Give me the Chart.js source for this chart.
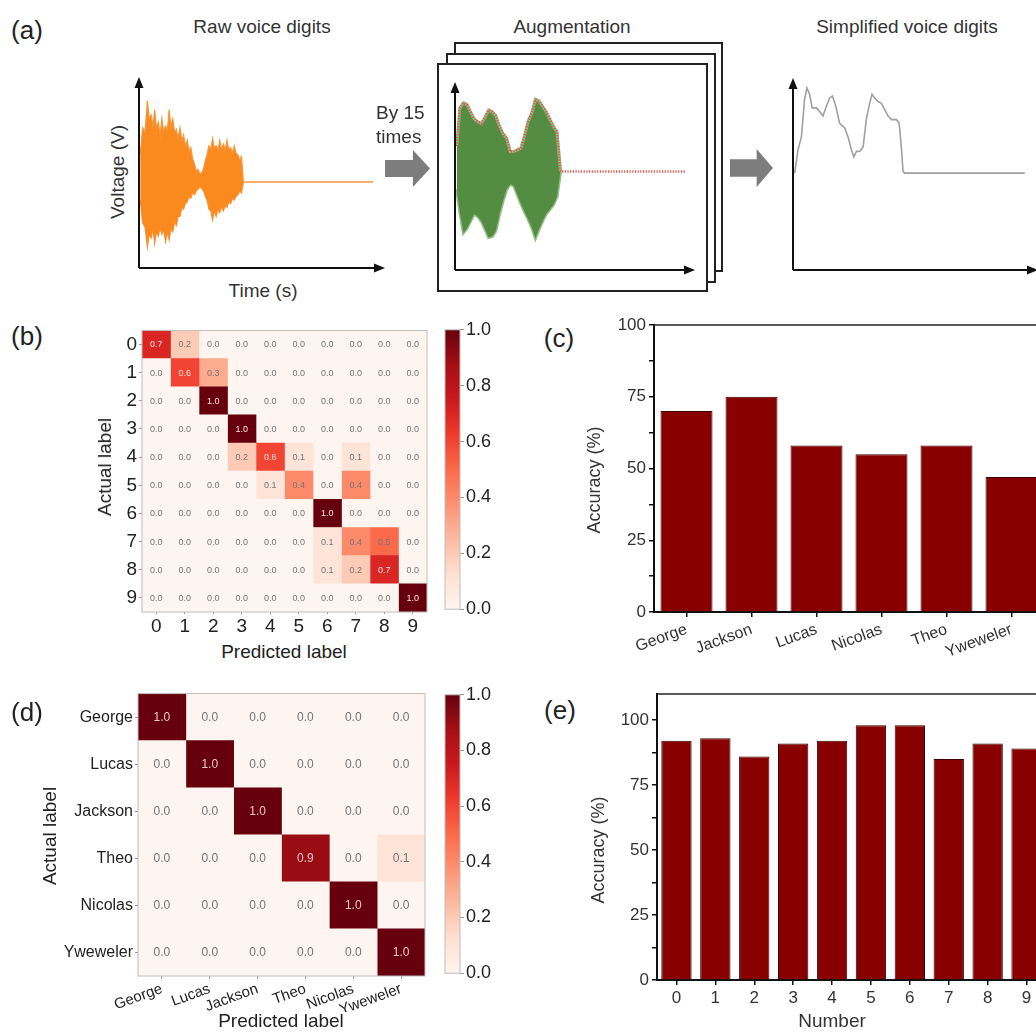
<!DOCTYPE html>
<html>
<head>
<meta charset="utf-8">
<script src="https://cdn.jsdelivr.net/npm/chart.js@4.4.0/dist/chart.umd.min.js"></script>
<style>
  html, body { margin:0; padding:0; background:#fff; }
  body { width:1036px; height:1032px; position:relative; overflow:hidden; font-family:"Liberation Sans", Arial, sans-serif; color:#222; }
  canvas { position:absolute; }
  .t { position:absolute; transform:translate(-50%,-50%); white-space:nowrap; }
  .l { position:absolute; transform:translate(0,-50%); white-space:nowrap; }
  .rot { position:absolute; transform:translate(-50%,-50%) rotate(-90deg); white-space:nowrap; }
  .frame { position:absolute; border:2px solid #222; background:#fff; box-sizing:border-box; }
  .arrow { position:absolute; background:#7d7d7d; clip-path:polygon(0 27%, 62% 27%, 62% 0, 100% 50%, 62% 100%, 62% 73%, 0 73%); }
</style>
</head>
<body>

<div class="frame" style="left:454px;top:42px;width:269px;height:230px"></div>
<div class="frame" style="left:446px;top:53px;width:270px;height:230px"></div>
<div class="frame" style="left:437px;top:63px;width:271px;height:229px"></div>
<div class="arrow" style="left:385px;top:150px;width:45px;height:37px"></div>
<div class="arrow" style="left:730px;top:149px;width:43px;height:38px"></div>

<canvas id="raw" width="266" height="211" style="left:129px;top:67px"></canvas>
<canvas id="aug" width="260" height="208" style="left:445px;top:72px"></canvas>
<canvas id="simp" width="265" height="212" style="left:783px;top:68px"></canvas>
<canvas id="cmB" width="340" height="320" style="left:100px;top:317px"></canvas>
<canvas id="cbB" width="60" height="305" style="left:440px;top:317px"></canvas>
<canvas id="barC" width="449" height="370" style="left:600px;top:310px"></canvas>
<canvas id="cmD" width="420" height="330" style="left:20px;top:682px"></canvas>
<canvas id="cbD" width="60" height="304" style="left:440px;top:682px"></canvas>
<canvas id="barE" width="451" height="352" style="left:600px;top:680px"></canvas>

<div class="t" style="left:27px;top:30px;font-size:26px">(a)</div>
<div class="t" style="left:262px;top:27px;font-size:19px;color:#333">Raw voice digits</div>
<div class="t" style="left:572px;top:27px;font-size:19px;color:#333">Augmentation</div>
<div class="t" style="left:907px;top:27px;font-size:19px;color:#333">Simplified voice digits</div>
<div class="rot" style="left:118px;top:172px;font-size:19px;color:#333">Voltage (V)</div>
<div class="t" style="left:263px;top:291px;font-size:19px;color:#333">Time (s)</div>
<div class="l" style="left:376px;top:113px;font-size:19px;color:#333">By 15</div>
<div class="l" style="left:376px;top:137px;font-size:19px;color:#333">times</div>

<div class="t" style="left:27px;top:336px;font-size:26px">(b)</div>
<div class="rot" style="left:105px;top:467px;font-size:19px">Actual label</div>
<div class="t" style="left:284px;top:652px;font-size:19px">Predicted label</div>

<div class="t" style="left:559px;top:338px;font-size:26px">(c)</div>
<div class="rot" style="left:594px;top:480px;font-size:18px;color:#333">Accuracy (%)</div>

<div class="t" style="left:27px;top:712px;font-size:26px">(d)</div>
<div class="rot" style="left:50px;top:836px;font-size:19px">Actual label</div>
<div class="t" style="left:281px;top:1021px;font-size:19px">Predicted label</div>

<div class="t" style="left:560px;top:710px;font-size:26px">(e)</div>
<div class="rot" style="left:598px;top:850px;font-size:18px;color:#333">Accuracy (%)</div>
<div class="t" style="left:832px;top:1021px;font-size:19px;color:#333">Number</div>

<script>
// ---- (a) waveforms (time in % of axis length, voltage in arbitrary units)
const rawT     = [0.5, 1.5, 2.5, 3.5, 4.2, 5, 5.8, 6.5, 7.2, 8, 8.8, 9.5, 10.2, 11, 11.8, 12.5, 13.2, 14, 14.8, 15.5,
                  16.2, 17, 17.8, 18.5, 19.2, 20, 20.8, 21.5, 22.2, 23, 23.8, 24.5, 25.2, 26, 26.8, 27.5, 28.2, 29, 29.8, 30.5,
                  31.2, 32, 32.8, 33.5, 34.2, 35, 35.8, 36.5, 37.2, 38, 38.8, 39.5, 40.2, 41, 41.8, 42.5, 43.3, 97]
const rawUpper = [0.30, 0.60, 0.55, 0.90, 0.70, 0.74, 0.62, 0.80, 0.60, 0.66, 0.52, 0.70, 0.56, 0.62, 0.58, 0.80, 0.62, 0.70, 0.55, 0.58,
                  0.48, 0.60, 0.46, 0.52, 0.40, 0.46, 0.34, 0.38, 0.26, 0.20, 0.12, 0.14, 0.09, 0.10, 0.15, 0.24, 0.30, 0.40, 0.36, 0.48,
                  0.38, 0.40, 0.36, 0.46, 0.36, 0.42, 0.36, 0.46, 0.36, 0.38, 0.32, 0.40, 0.32, 0.30, 0.24, 0.28, 0, 0]
const rawLower = [-0.20, -0.45, -0.50, -0.72, -0.58, -0.62, -0.52, -0.68, -0.55, -0.60, -0.50, -0.58, -0.52, -0.66, -0.55, -0.64, -0.52, -0.55, -0.44, -0.48,
                  -0.38, -0.38, -0.28, -0.30, -0.24, -0.22, -0.16, -0.18, -0.12, -0.14, -0.09, -0.08, -0.05, -0.07, -0.10, -0.16, -0.20, -0.30, -0.32, -0.42,
                  -0.32, -0.38, -0.30, -0.34, -0.27, -0.32, -0.26, -0.28, -0.22, -0.24, -0.18, -0.20, -0.16, -0.14, -0.10, -0.12, 0, 0]

const augT     = [0.7, 2, 3.5, 5, 6.5, 8, 9.5, 11, 12.5, 14, 15.5, 17, 18.5, 20, 21.5, 23, 24.5, 26, 27.5, 29, 30.5, 32, 33.5, 35, 36.5, 38, 39.5, 41, 42.5, 44, 95.8]
const augUpper = [0.28, 0.70, 0.76, 0.74, 0.66, 0.58, 0.55, 0.53, 0.60, 0.68, 0.66, 0.62, 0.50, 0.42, 0.37, 0.22, 0.22, 0.24, 0.26, 0.40, 0.56, 0.65, 0.80, 0.78, 0.72, 0.66, 0.58, 0.50, 0.44, 0, 0]
const augLower = [-0.20, -0.45, -0.68, -0.63, -0.55, -0.47, -0.50, -0.55, -0.64, -0.73, -0.72, -0.66, -0.48, -0.33, -0.20, -0.14, -0.16, -0.26, -0.36, -0.45, -0.53, -0.62, -0.74, -0.64, -0.55, -0.47, -0.42, -0.37, -0.28, 0, 0]

const simpT = [0.7, 2.1, 3.5, 4.8, 5.8, 6.9, 8.0, 9.7, 11.1, 12.5, 13.9, 15.3, 16.4, 17.8, 19.4, 21.5, 22.9, 24.3, 25.3, 26.4, 27.8, 29.2, 30.5, 31.9, 32.9, 34.0, 35.4, 36.8, 37.8, 39.6, 41.0, 43.1, 44.2, 45.1, 45.8, 46.5, 96.5]
const simpV = [0, 0.26, 0.40, 0.81, 0.94, 0.87, 0.72, 0.72, 0.68, 0.63, 0.74, 0.83, 0.85, 0.74, 0.55, 0.50, 0.40, 0.26, 0.18, 0.24, 0.24, 0.29, 0.59, 0.77, 0.87, 0.83, 0.79, 0.77, 0.72, 0.63, 0.59, 0.59, 0.55, 0.29, 0.02, 0, 0]

// ---- (b) digit confusion matrix
const digits = ['0', '1', '2', '3', '4', '5', '6', '7', '8', '9']
const digitMatrix = [
  [0.7, 0.2, 0, 0, 0, 0, 0, 0, 0, 0],
  [0, 0.6, 0.3, 0, 0, 0, 0, 0, 0, 0],
  [0, 0, 1.0, 0, 0, 0, 0, 0, 0, 0],
  [0, 0, 0, 1.0, 0, 0, 0, 0, 0, 0],
  [0, 0, 0, 0.2, 0.6, 0.1, 0, 0.1, 0, 0],
  [0, 0, 0, 0, 0.1, 0.4, 0, 0.4, 0, 0],
  [0, 0, 0, 0, 0, 0, 1.0, 0, 0, 0],
  [0, 0, 0, 0, 0, 0, 0.1, 0.4, 0.5, 0],
  [0, 0, 0, 0, 0, 0, 0.1, 0.2, 0.7, 0],
  [0, 0, 0, 0, 0, 0, 0, 0, 0, 1.0]
]

// ---- (c) speaker accuracy
const speakers = ['George', 'Jackson', 'Lucas', 'Nicolas', 'Theo', 'Yweweler']
const speakerAccuracy = [70, 75, 58, 55, 58, 47]

// ---- (d) speaker confusion matrix
const speakerOrder = ['George', 'Lucas', 'Jackson', 'Theo', 'Nicolas', 'Yweweler']
const speakerMatrix = [
  [1.0, 0, 0, 0, 0, 0],
  [0, 1.0, 0, 0, 0, 0],
  [0, 0, 1.0, 0, 0, 0],
  [0, 0, 0, 0.9, 0, 0.1],
  [0, 0, 0, 0, 1.0, 0],
  [0, 0, 0, 0, 0, 1.0]
]

// ---- (e) digit accuracy
const digitAccuracy = [92, 93, 86, 91, 92, 98, 98, 85, 91, 89]

const accTicks = [0, 12.5, 25, 37.5, 50, 62.5, 75, 87.5, 100]
const cbTicks = [0, 0.2, 0.4, 0.6, 0.8, 1.0]

Chart.defaults.font.family = '"Liberation Sans", Arial, sans-serif'
Chart.defaults.color = '#222'

// matplotlib "Reds"
const redStops = [[0, '#fff5f0'], [0.125, '#fee0d2'], [0.25, '#fcbba1'], [0.375, '#fc9272'], [0.5, '#fb6a4a'], [0.625, '#ef3b2c'], [0.75, '#cb181d'], [0.875, '#a50f15'], [1, '#67000d']]
function reds(v) {
  for (let i = 1; i < redStops.length; i++) {
    if (v <= redStops[i][0]) {
      const [p0, c0] = redStops[i - 1], [p1, c1] = redStops[i]
      const f = (v - p0) / (p1 - p0)
      const a = [1, 3, 5].map(k => parseInt(c0.substr(k, 2), 16))
      const b = [1, 3, 5].map(k => parseInt(c1.substr(k, 2), 16))
      return 'rgb(' + a.map((x, j) => Math.round(x + (b[j] - x) * f)).join(',') + ')'
    }
  }
  return redStops[redStops.length - 1][1]
}

const base = {
  responsive: false,
  animation: false,
  events: [],
  plugins: { legend: { display: false }, tooltip: { enabled: false } }
}

const arrowAxes = {
  id: 'arrowAxes',
  afterDraw(chart) {
    const { ctx, chartArea: a } = chart
    ctx.save()
    ctx.strokeStyle = '#111'
    ctx.fillStyle = '#111'
    ctx.lineWidth = 2
    ctx.beginPath()
    ctx.moveTo(a.left, a.bottom); ctx.lineTo(a.left, a.top + 8)
    ctx.moveTo(a.left, a.bottom); ctx.lineTo(a.right - 8, a.bottom)
    ctx.stroke()
    ctx.beginPath(); ctx.moveTo(a.left, a.top); ctx.lineTo(a.left - 4.5, a.top + 11); ctx.lineTo(a.left + 4.5, a.top + 11); ctx.fill()
    ctx.beginPath(); ctx.moveTo(a.right, a.bottom); ctx.lineTo(a.right - 11, a.bottom - 4.5); ctx.lineTo(a.right - 11, a.bottom + 4.5); ctx.fill()
    ctx.restore()
  }
}

function pts(xs, ys) { return xs.map((x, i) => ({ x: x, y: ys[i] })) }

function waveOptions(xMax, yMin, yMax) {
  return Object.assign({}, base, {
    layout: { padding: 10 },
    scales: {
      x: { type: 'linear', display: false, min: 0, max: xMax },
      y: { display: false, min: yMin, max: yMax }
    }
  })
}

// (a) raw
new Chart(document.getElementById('raw'), {
  type: 'line',
  data: { datasets: [
    { data: pts(rawT, rawUpper), borderColor: '#f7963a', borderWidth: 1.2, backgroundColor: '#fb8a1e', fill: '+1', pointRadius: 0 },
    { data: pts(rawT, rawLower), borderColor: '#f7963a', borderWidth: 1.2, pointRadius: 0, fill: false }
  ] },
  options: waveOptions(102, -0.95, 1.16),
  plugins: [arrowAxes]
})

// (a) augmentation, red dotted envelope drawn on top
new Chart(document.getElementById('aug'), {
  type: 'line',
  data: { datasets: [
    { data: pts(augT.slice(0, -1), augUpper.slice(0, -1)), borderColor: '#93bf83', borderWidth: 3, backgroundColor: '#558c44', fill: '+1', pointRadius: 0, order: 2 },
    { data: pts(augT.slice(0, -1), augLower.slice(0, -1)), borderColor: '#93bf83', borderWidth: 3, pointRadius: 0, fill: false, order: 3 },
    { data: pts(augT, augUpper), borderColor: '#e5534b', borderWidth: 2.5, borderDash: [1.2, 1.5], pointRadius: 0, fill: false, order: 0 }
  ] },
  options: waveOptions(100, -1.09, 0.99),
  plugins: [arrowAxes]
})

// (a) simplified
new Chart(document.getElementById('simp'), {
  type: 'line',
  data: { datasets: [
    { data: pts(simpT, simpV), borderColor: '#a0a0a0', borderWidth: 1.6, pointRadius: 0, fill: false }
  ] },
  options: waveOptions(102, -1.07, 1.05),
  plugins: [arrowAxes]
})

// heatmap drawn as floating horizontal bars, one dataset per predicted column
function cellPlugin(matrix, font, light, dark) {
  return {
    id: 'cells',
    beforeDatasetsDraw(chart) {
      const { ctx, chartArea: a } = chart
      ctx.save()
      ctx.fillStyle = reds(0)
      ctx.fillRect(a.left, a.top, a.width, a.height)
      ctx.restore()
    },
    afterDatasetsDraw(chart) {
      const { ctx, chartArea: a } = chart
      ctx.save()
      ctx.font = font
      ctx.textAlign = 'center'
      ctx.textBaseline = 'middle'
      chart.data.datasets.forEach((ds, c) => {
        chart.getDatasetMeta(c).data.forEach((bar, r) => {
          const v = matrix[r][c]
          ctx.fillStyle = v > 0.55 ? light : dark
          ctx.fillText(v.toFixed(1), (bar.x + bar.base) / 2, bar.y + 0.5)
        })
      })
      ctx.strokeStyle = '#bdbdbd'
      ctx.lineWidth = 1
      ctx.strokeRect(a.left, a.top, a.width, a.height)
      ctx.restore()
    }
  }
}

function confusion(id, labels, matrix, opt) {
  new Chart(document.getElementById(id), {
    type: 'bar',
    data: {
      labels: labels,
      datasets: labels.map((_, c) => ({
        data: labels.map(() => [c, c + 1]),
        backgroundColor: labels.map((_, r) => reds(matrix[r][c])),
        borderWidth: 0,
        barPercentage: 1,
        categoryPercentage: 1,
        grouped: false
      }))
    },
    options: Object.assign({}, base, {
      indexAxis: 'y',
      layout: { padding: opt.padding },
      scales: {
        y: {
          type: 'category',
          afterFit: s => { s.width = opt.yWidth },
          grid: { drawOnChartArea: false, offset: false, tickLength: 3, color: '#999' },
          border: { display: false },
          ticks: { font: { size: opt.yFont }, padding: 2, color: '#222' }
        },
        x: {
          type: 'linear', min: 0, max: labels.length,
          afterFit: s => { s.height = opt.xHeight },
          afterBuildTicks: axis => { axis.ticks = labels.map((_, i) => ({ value: i + 0.5 })) },
          grid: { drawOnChartArea: false, tickLength: opt.xTick, color: '#999' },
          border: { display: false },
          ticks: { autoSkip: false, font: { size: opt.xFont }, padding: 1, color: '#222',
                   minRotation: opt.rot, maxRotation: opt.rot,
                   callback: (v, i) => labels[i] }
        }
      }
    }),
    plugins: [cellPlugin(matrix, opt.cellFont, opt.light, '#747474')]
  })
}

function colorbar(id, font) {
  new Chart(document.getElementById(id), {
    type: 'bar',
    data: { labels: [''], datasets: [{
      data: [[0, 1]],
      borderWidth: 0, barPercentage: 1, categoryPercentage: 1,
      backgroundColor: c => {
        const { ctx, chartArea } = c.chart
        if (!chartArea) return reds(0.5)
        const g = ctx.createLinearGradient(0, chartArea.bottom, 0, chartArea.top)
        redStops.forEach(([p, col]) => g.addColorStop(p, col))
        return g
      }
    }] },
    options: Object.assign({}, base, {
      layout: { padding: { left: 5, top: 10, bottom: 10, right: 0 } },
      scales: {
        x: { display: false },
        y: {
          position: 'right', min: 0, max: 1,
          afterFit: s => { s.width = 40 },
          afterBuildTicks: axis => { axis.ticks = cbTicks.map(v => ({ value: v })) },
          grid: { drawOnChartArea: false, tickLength: 4, color: '#999' },
          border: { display: false },
          ticks: { font: { size: font }, padding: 2, color: '#222', callback: v => v.toFixed(1) }
        }
      }
    }),
    plugins: [{
      id: 'cbFrame',
      afterDatasetsDraw(chart) {
        const { ctx, chartArea: a } = chart
        ctx.save(); ctx.strokeStyle = '#bdbdbd'; ctx.lineWidth = 1
        ctx.strokeRect(a.left, a.top, a.width, a.height); ctx.restore()
      }
    }]
  })
}

confusion('cmB', digits, digitMatrix, {
  padding: { top: 10, right: 13, left: 0, bottom: 0 }, yWidth: 42, xHeight: 25,
  yFont: 19, xFont: 19, xTick: 2, rot: 0, cellFont: '9px "Liberation Sans", Arial', light: '#fde3de'
})
colorbar('cbB', 18)

confusion('cmD', speakerOrder, speakerMatrix, {
  padding: { top: 10, right: 15, left: 0, bottom: 0 }, yWidth: 118, xHeight: 36,
  yFont: 16, xFont: 15, xTick: 3, rot: 20, cellFont: '12px "Liberation Sans", Arial', light: '#f2c4c4'
})
colorbar('cbD', 18)

// accuracy bar charts
const topLine = {
  id: 'topLine',
  afterDraw(chart) {
    const { ctx, chartArea: a } = chart
    ctx.save(); ctx.strokeStyle = '#222'; ctx.lineWidth = 1.5
    ctx.beginPath(); ctx.moveTo(a.left, a.top); ctx.lineTo(a.right, a.top); ctx.stroke(); ctx.restore()
  }
}

function accuracyChart(id, labels, values, opt) {
  new Chart(document.getElementById(id), {
    type: 'bar',
    data: { labels: labels, datasets: [{
      data: values, backgroundColor: '#880000', borderColor: '#3a0000', borderWidth: 1,
      barPercentage: 1, categoryPercentage: opt.cat
    }] },
    options: Object.assign({}, base, {
      layout: { padding: opt.padding },
      scales: {
        y: {
          min: 0, max: opt.yMax,
          afterFit: s => { s.width = opt.yWidth },
          afterBuildTicks: axis => { axis.ticks = accTicks.map(v => ({ value: v })) },
          grid: { drawOnChartArea: false, tickLength: 5, color: '#111', lineWidth: 1.5 },
          border: { display: true, color: '#111', width: 2 },
          ticks: { font: { size: 17 }, padding: 3, color: '#333', callback: v => (v % 25 === 0 ? v : '') }
        },
        x: {
          afterFit: s => { s.height = opt.xHeight },
          grid: { drawOnChartArea: false, offset: false, tickLength: 5, color: '#111', lineWidth: 1.5 },
          border: { display: true, color: '#111', width: 2 },
          ticks: { autoSkip: false, font: { size: opt.xFont }, padding: 3, color: '#333', minRotation: opt.rot, maxRotation: opt.rot }
        }
      }
    }),
    plugins: [topLine]
  })
}

accuracyChart('barC', speakers, speakerAccuracy, {
  padding: { top: 15, right: 5, left: 0, bottom: 0 }, yWidth: 54, xHeight: 68, yMax: 100, cat: 0.8, xFont: 16, rot: 20
})
accuracyChart('barE', digits, digitAccuracy, {
  padding: { top: 14, right: 5, left: 0, bottom: 0 }, yWidth: 57, xHeight: 52, yMax: 110, cat: 0.78, xFont: 17, rot: 0
})
</script>
</body>
</html>
